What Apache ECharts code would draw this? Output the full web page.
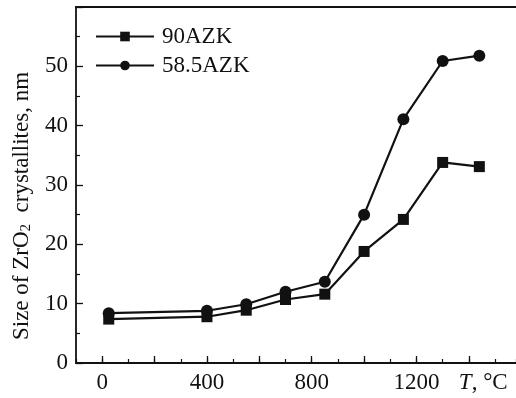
<!DOCTYPE html>
<html>
<head>
<meta charset="utf-8">
<script src="https://cdn.jsdelivr.net/npm/echarts@6/dist/echarts.min.js"></script>
<style>
html,body{margin:0;padding:0;background:#fff;}
#c{width:516px;height:398px;}
</style>
</head>
<body>
<div id="c"></div>
<script>
// Data
var temperatures = [25, 400, 550, 700, 850, 1000, 1150, 1300, 1440];
var azk90 = [7.4, 7.8, 8.9, 10.7, 11.6, 18.8, 24.2, 33.8, 33.1];
var azk585 = [8.4, 8.8, 9.9, 12.0, 13.7, 25.0, 41.1, 50.9, 51.8];
var seriesNames = ['90AZK', '58.5AZK'];
var xTickLabels = [0, 400, 800, 1200];
var xMajorTicks = [0, 200, 400, 600, 800, 1000, 1200, 1400];
var xUnitLabelPos = 1455;
var yTickLabels = [0, 10, 20, 30, 40, 50];

var FONT = "'Liberation Serif', 'Times New Roman', serif";
var INK = '#111';
var FS = 23;

function pairs(xs, ys) { return xs.map(function (x, i) { return [x, ys[i]]; }); }

var chart = echarts.init(document.getElementById('c'), null, {renderer: 'canvas'});
var xLabelValues = xTickLabels.concat([xUnitLabelPos]);
chart.setOption({
  animation: false,
  backgroundColor: '#fff',
  grid: {left: 76, top: 7, right: 0, bottom: 35, containLabel: false},
  legend: {
    orient: 'vertical',
    left: 90, top: 20,
    itemWidth: 58, itemHeight: 12, itemGap: 6,
    textStyle: {fontFamily: FONT, fontSize: FS, color: INK, padding: [0, 0, 0, 3]},
    data: seriesNames
  },
  xAxis: [
    {
      type: 'value', min: -100, max: 1580, position: 'bottom',
      splitLine: {show: false},
      axisLine: {show: true, onZero: false, lineStyle: {color: INK, width: 1.8}},
      axisTick: {show: true, inside: true, length: 7, customValues: xMajorTicks, lineStyle: {color: INK, width: 1.3}},
      axisLabel: {
        show: true, margin: 8, customValues: xLabelValues,
        fontFamily: FONT, fontSize: FS, color: INK,
        formatter: function (v) { return v === xUnitLabelPos ? '{i|T}, °C' : String(v); },
        rich: {i: {fontStyle: 'italic', fontFamily: FONT, fontSize: FS, color: INK}}
      }
    },
    {
      type: 'value', min: -100, max: 1580, interval: 100, position: 'bottom',
      splitLine: {show: false},
      axisLine: {show: false},
      axisTick: {show: true, inside: true, length: 4, lineStyle: {color: INK, width: 1.2}},
      axisLabel: {show: false}
    },
    {
      type: 'value', min: -100, max: 1580, position: 'top',
      splitLine: {show: false},
      axisLine: {show: true, onZero: false, lineStyle: {color: INK, width: 1.8}},
      axisTick: {show: false},
      axisLabel: {show: false}
    }
  ],
  yAxis: {
    type: 'value', min: 0, max: 60, interval: 10,
    splitLine: {show: false},
    axisLine: {show: true, onZero: false, lineStyle: {color: INK, width: 1.8}},
    axisTick: {show: true, inside: true, length: 7, lineStyle: {color: INK, width: 1.3}},
    minorTick: {show: true, splitNumber: 2, length: 4, lineStyle: {color: INK, width: 1.2}},
    axisLabel: {
      margin: 8, fontFamily: FONT, fontSize: FS, color: INK,
      formatter: function (v) { return yTickLabels.indexOf(v) >= 0 ? String(v) : ''; }
    },
    name: 'Size of ZrO{sub|2}  crystallites, nm',
    nameLocation: 'middle',
    nameGap: 42,
    nameRotate: 90,
    nameTextStyle: {
      fontFamily: FONT, fontSize: FS, color: INK,
      padding: [0, 42, 0, 0],
      rich: {sub: {fontFamily: FONT, fontSize: 15, color: INK, padding: [9, 0, 0, 0]}}
    }
  },
  series: [
    {
      name: seriesNames[0], type: 'line', xAxisIndex: 0,
      data: pairs(temperatures, azk90),
      symbol: 'rect', symbolSize: 11,
      itemStyle: {color: INK},
      lineStyle: {color: INK, width: 2.2}
    },
    {
      name: seriesNames[1], type: 'line', xAxisIndex: 0,
      data: pairs(temperatures, azk585),
      symbol: 'circle', symbolSize: 12,
      itemStyle: {color: INK},
      lineStyle: {color: INK, width: 2.2}
    }
  ]
});
</script>
</body>
</html>
